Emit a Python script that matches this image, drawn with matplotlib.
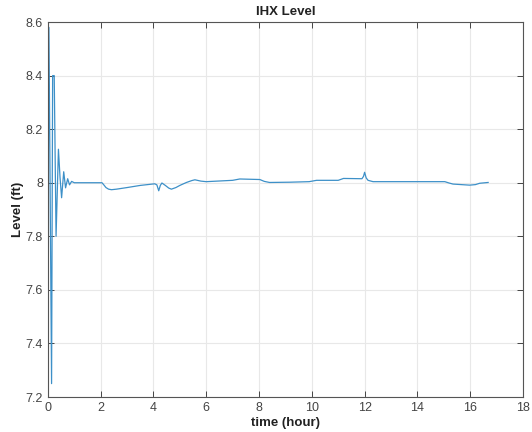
import matplotlib
matplotlib.use("Agg")
import matplotlib.pyplot as plt
from matplotlib.ticker import FuncFormatter

time_hour = [0.0, 0.04, 0.14, 0.18, 0.24, 0.31, 0.40, 0.46, 0.52, 0.60, 0.67, 0.75, 0.82, 0.90, 1.0,
             2.05, 2.12, 2.2, 2.3, 2.41, 2.6, 3.0, 3.5, 4.05, 4.13, 4.2, 4.26, 4.32, 4.45, 4.58, 4.68,
             4.85, 5.0, 5.25, 5.45, 5.57, 5.8,
             6.0, 7.0, 7.27, 8.03, 8.2, 8.4, 9.17, 9.9, 10.18, 11.0, 11.2, 11.9, 11.96, 12.0, 12.06, 12.13,
             12.32, 15.04, 15.2, 15.35, 15.98, 16.2, 16.36, 16.68]
level_ft = [7.70, 8.58, 7.25, 8.40, 8.40, 7.80, 8.125, 8.02, 7.944, 8.041, 7.981, 8.015, 7.992, 8.005, 8.0,
            8.0, 7.992, 7.982, 7.976, 7.974, 7.976, 7.982, 7.990, 7.996, 7.992, 7.970, 7.990, 7.999, 7.990, 7.980, 7.976,
            7.982, 7.990, 8.001, 8.008, 8.011, 8.006,
            8.004, 8.009, 8.014, 8.012, 8.005, 8.001, 8.002, 8.004, 8.009, 8.009, 8.016, 8.015, 8.024, 8.039, 8.018, 8.009,
            8.004, 8.004, 7.999, 7.995, 7.991, 7.993, 7.998, 8.001]

x_ticks = [0, 2, 4, 6, 8, 10, 12, 14, 16, 18]
y_ticks = [7.2, 7.4, 7.6, 7.8, 8.0, 8.2, 8.4, 8.6]

plt.rcParams['font.family'] = ['Liberation Sans', 'DejaVu Sans']

fig = plt.figure(figsize=(5.32, 4.32), dpi=100)
ax = fig.add_axes([0.090, 0.081, 0.893, 0.868])
ax.plot(time_hour, level_ft, color='#3d90c8', linewidth=0.9)

ax.set_xlim(0, 18)
ax.set_ylim(7.2, 8.6)
ax.set_xticks(x_ticks)
ax.set_yticks(y_ticks)
ax.yaxis.set_major_formatter(FuncFormatter(lambda v, p: ('%g' % round(v, 2))))
ax.grid(True, color='#e8e8e8', linewidth=0.8)
ax.set_axisbelow(True)
ax.tick_params(direction='in', length=4, width=0.7, colors='#444444', labelsize=9,
               top=True, right=True, labelcolor='#444444')
for s in ax.spines.values():
    s.set_color('#555555')
    s.set_linewidth(0.8)

ax.set_title('IHX Level', fontsize=9.5, fontweight='bold', pad=5, color='#222222')
ax.set_xlabel('time (hour)', fontsize=9.5, fontweight='bold', labelpad=2, color='#222222')
ax.set_ylabel('Level (ft)', fontsize=9.5, fontweight='bold', labelpad=1, color='#222222')

fig.savefig('out.png', dpi=100)
